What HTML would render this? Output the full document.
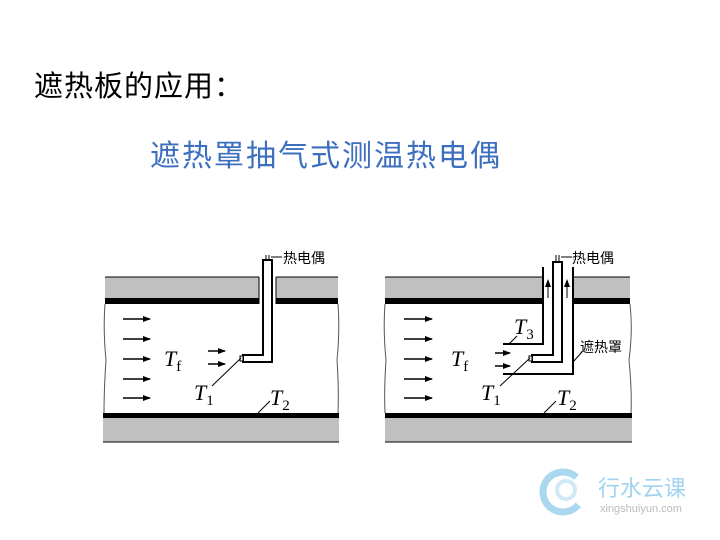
<!DOCTYPE html>
<html><head><meta charset="utf-8"><style>
html,body{margin:0;padding:0;background:#fff;width:720px;height:540px;overflow:hidden}
.t{position:absolute;white-space:nowrap;font-family:"Liberation Sans","Noto Sans CJK SC",sans-serif}
</style></head><body>
<div class="t" style="left:34px;top:63px;font-size:29px;letter-spacing:1px;color:#000">遮热板的应用：</div>
<div class="t" style="left:150px;top:131px;font-size:30px;letter-spacing:2px;color:#3d6fbf">遮热罩抽气式测温热电偶</div>
<svg width="720" height="540" style="position:absolute;left:0;top:0" font-family="Liberation Serif, serif">
<defs><marker id="a" markerWidth="8" markerHeight="6" refX="7" refY="3" orient="auto" markerUnits="userSpaceOnUse"><path d="M0,0L8,3L0,6z" fill="#000"/></marker></defs>
<!-- LEFT -->
<rect x="105" y="277" width="154" height="21" fill="#c0c0c0"/>
<rect x="276" y="277" width="62" height="21" fill="#c0c0c0"/>
<line x1="105" y1="277" x2="259" y2="277" stroke="#000"/>
<line x1="276" y1="277" x2="338" y2="277" stroke="#000"/>
<rect x="105" y="298" width="154" height="6" fill="#000"/>
<rect x="276" y="298" width="62" height="6" fill="#000"/>
<line x1="259" y1="277" x2="259" y2="304" stroke="#000"/>
<line x1="276" y1="277" x2="276" y2="304" stroke="#000"/>
<rect x="103" y="413" width="236" height="5" fill="#000"/>
<rect x="103" y="418" width="236" height="24" fill="#c0c0c0"/>
<line x1="103" y1="442" x2="339" y2="442" stroke="#000"/>
<path d="M105,304 Q103,330 106,360 Q104,390 104,413" fill="none" stroke="#555"/>
<path d="M338,304 Q340,330 337,360 Q339,390 338,413" fill="none" stroke="#555"/>
<path d="M263,260 H272 V362 H243 V355 H263 Z" fill="#fff" stroke="#000" stroke-width="2"/>
<path d="M240,356 h3 v5 h-3z" fill="#fff" stroke="#000"/>
<line x1="266" y1="255" x2="266" y2="260" stroke="#000"/><line x1="269" y1="255" x2="269" y2="260" stroke="#000"/>
<line x1="271" y1="257" x2="282" y2="257" stroke="#000"/>
<text x="283" y="263" font-size="14" font-family="Liberation Sans, Noto Sans CJK SC, sans-serif">热电偶</text>
<g stroke="#000" stroke-width="1.5" marker-end="url(#a)">
<line x1="123" y1="319" x2="150" y2="319"/><line x1="123" y1="339" x2="150" y2="339"/><line x1="123" y1="359" x2="150" y2="359"/><line x1="123" y1="379" x2="150" y2="379"/><line x1="123" y1="398" x2="150" y2="398"/>
<line x1="208" y1="351" x2="225" y2="351"/><line x1="208" y1="364" x2="225" y2="364"/>
</g>
<text x="164" y="366" font-size="22" font-style="italic">T<tspan font-size="15" dy="5" font-style="normal">f</tspan></text>
<line x1="212" y1="386" x2="241" y2="358" stroke="#000"/>
<text x="194" y="400" font-size="22" font-style="italic">T<tspan font-size="15" dy="5" font-style="normal">1</tspan></text>
<line x1="258" y1="413" x2="270" y2="401" stroke="#000"/>
<text x="270" y="405" font-size="22" font-style="italic">T<tspan font-size="15" dy="5" font-style="normal">2</tspan></text>
<!-- RIGHT -->
<rect x="385" y="277" width="245" height="21" fill="#c0c0c0"/>
<line x1="385" y1="277" x2="630" y2="277" stroke="#000"/>
<rect x="385" y="298" width="245" height="6" fill="#000"/>
<rect x="385" y="413" width="247" height="5" fill="#000"/>
<rect x="385" y="418" width="247" height="24" fill="#c0c0c0"/>
<line x1="385" y1="442" x2="632" y2="442" stroke="#000"/>
<path d="M385,304 Q383,330 386,360 Q384,390 385,413" fill="none" stroke="#555"/>
<path d="M630,304 Q633,330 629,360 Q632,390 631,413" fill="none" stroke="#555"/>
<rect x="544" y="266" width="28" height="40" fill="#fff"/>
<path d="M543,267 V344 H503" fill="none" stroke="#000" stroke-width="2"/>
<path d="M573,267 V374 H503" fill="none" stroke="#000" stroke-width="2"/>
<path d="M553,262 H562 V362 H532 V355 H553 Z" fill="#fff" stroke="#000" stroke-width="2"/>
<path d="M529,356 h3 v5 h-3z" fill="#fff" stroke="#000"/>
<line x1="556" y1="255" x2="556" y2="262" stroke="#000"/><line x1="559" y1="255" x2="559" y2="262" stroke="#000"/>
<line x1="561" y1="257" x2="572" y2="257" stroke="#000"/>
<text x="572" y="263" font-size="14" font-family="Liberation Sans, Noto Sans CJK SC, sans-serif">热电偶</text>
<g stroke="#000" stroke-width="1" marker-end="url(#a)">
<line x1="548" y1="298" x2="548" y2="280"/><line x1="567" y1="298" x2="567" y2="280"/>
</g>
<g stroke="#000" stroke-width="1.5" marker-end="url(#a)">
<line x1="404" y1="319" x2="432" y2="319"/><line x1="404" y1="339" x2="432" y2="339"/><line x1="404" y1="359" x2="432" y2="359"/><line x1="404" y1="379" x2="432" y2="379"/><line x1="404" y1="398" x2="432" y2="398"/>
<line x1="495" y1="353" x2="510" y2="353"/><line x1="495" y1="366" x2="510" y2="366"/>
</g>
<text x="451" y="366" font-size="22" font-style="italic">T<tspan font-size="15" dy="5" font-style="normal">f</tspan></text>
<line x1="509" y1="344" x2="517" y2="336" stroke="#000"/>
<text x="514" y="334" font-size="22" font-style="italic">T<tspan font-size="15" dy="5" font-style="normal">3</tspan></text>
<line x1="500" y1="386" x2="530" y2="358" stroke="#000"/>
<text x="481" y="400" font-size="22" font-style="italic">T<tspan font-size="15" dy="5" font-style="normal">1</tspan></text>
<line x1="573" y1="362" x2="582" y2="352" stroke="#000"/>
<text x="580" y="352" font-size="14" font-family="Liberation Sans, Noto Sans CJK SC, sans-serif">遮热罩</text>
<line x1="544" y1="413" x2="556" y2="401" stroke="#000"/>
<text x="557" y="405" font-size="22" font-style="italic">T<tspan font-size="15" dy="5" font-style="normal">2</tspan></text>
<!-- logo -->
<circle cx="563" cy="492" r="20" fill="none" stroke="#a9d8f0" stroke-width="7" stroke-dasharray="95 40" transform="rotate(40 563 492)"/>
<circle cx="566" cy="490" r="9" fill="none" stroke="#cfe9f7" stroke-width="4"/>
<text x="598" y="496" font-size="22" fill="#9fd3ee" font-family="Liberation Sans, Noto Sans CJK SC, sans-serif">行水云课</text>
<text x="600" y="512" font-size="11" fill="#bbb" font-family="Liberation Sans, sans-serif">xingshuiyun.com</text>
</svg>
</body></html>
